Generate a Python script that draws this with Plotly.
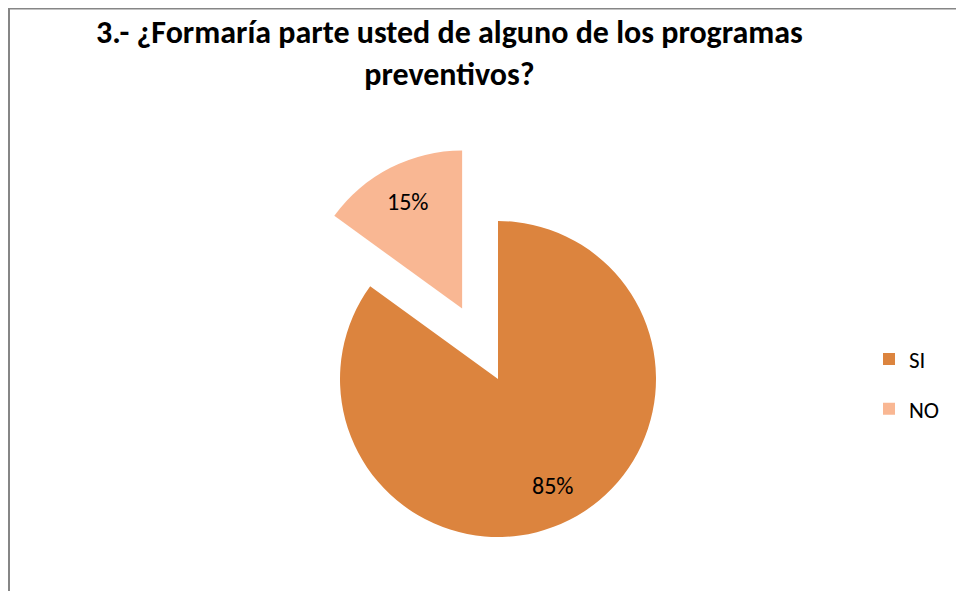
import math
import plotly.graph_objects as go

# ---- data ----
labels = ["SI", "NO"]
values = [85, 15]
colors = ["#DC843E", "#F9B793"]
pulls = [0.0, 0.5]
title_text = "<b>3.- ¿Formaría parte usted de alguno de los programas<br>preventivos?</b>"

# ---- layout geometry (figure pixels; page body adds an 8px offset) ----
W, H = 964, 591
CX, CY, R = 490, 371, 158
LABEL_FRAC = 0.76
FONT = "Carlito, Lato, 'Liberation Sans', sans-serif"
TRANSPARENT = "rgba(0,0,0,0)"


def domain_for(cx, cy, r):
    return dict(x=[(cx - r) / W, (cx + r) / W], y=[1 - (cy + r) / H, 1 - (cy - r) / H])


total = sum(values)
fig = go.Figure()

# legend-only entries (tiny pies), one per label so spacing can be set
for i, lab in enumerate(labels):
    fig.add_trace(go.Pie(
        labels=[lab], values=[values[i]], marker=dict(colors=[colors[i]], line=dict(width=0)),
        domain=dict(x=[0, 0.0001], y=[0, 0.0001]), textinfo="none", hoverinfo="skip",
        sort=False, showlegend=True, legendgroup=lab, name=lab,
    ))

annotations = []
cum = 0
for i, lab in enumerate(labels):
    mid = 2 * math.pi * (cum + values[i] / 2) / total  # clockwise from top
    cum += values[i]
    ox = CX + pulls[i] * R * math.sin(mid)
    oy = CY - pulls[i] * R * math.cos(mid)
    cols = [c if j == i else TRANSPARENT for j, c in enumerate(colors)]
    fig.add_trace(go.Pie(
        labels=labels, values=values, sort=False, direction="clockwise", rotation=0,
        marker=dict(colors=cols, line=dict(width=0)), textinfo="none",
        domain=domain_for(ox, oy, R), showlegend=False, hoverinfo="skip",
    ))
    lx = ox + LABEL_FRAC * R * math.sin(mid)
    ly = oy - LABEL_FRAC * R * math.cos(mid)
    annotations.append(dict(
        text=f"{round(100 * values[i] / total)}%", x=lx / W, y=1 - ly / H,
        xref="paper", yref="paper", xanchor="center", yanchor="middle", showarrow=False,
        font=dict(family=FONT, size=24, color="#000000"),
    ))

annotations.append(dict(
    text=title_text, x=441 / W, y=1 - 3 / H, xref="paper", yref="paper",
    xanchor="center", yanchor="top", showarrow=False, align="center",
    font=dict(family=FONT, size=32, color="#000000"),
))

fig.update_layout(
    width=W, height=H, margin=dict(l=0, r=0, t=0, b=0),
    paper_bgcolor="white", plot_bgcolor="white",
    annotations=annotations,
    legend=dict(x=861 / W, xanchor="left", y=1 - 376 / H, yanchor="middle",
                font=dict(family=FONT, size=23, color="#000000"),
                tracegroupgap=17, traceorder="grouped", itemwidth=30),
    shapes=[dict(type="rect", xref="paper", yref="paper",
                 x0=1 / W, x1=1.05, y0=-0.05, y1=1 - 0.5 / H,
                 line=dict(color="#868686", width=2))],
)

fig.write_html("out.html")
